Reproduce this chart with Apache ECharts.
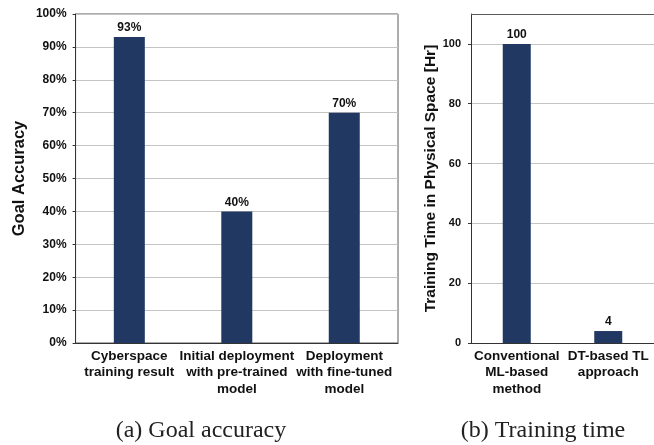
<!DOCTYPE html>
<html>
<head>
<meta charset="utf-8">
<script src="https://cdn.jsdelivr.net/npm/echarts@6/dist/echarts.min.js"></script>
<style>html,body{margin:0;padding:0;background:#fff}#c{width:654px;height:445px}</style>
</head>
<body>
<div id="c"></div>
<script>
const accCategories = ['Cyberspace\ntraining result', 'Initial deployment\nwith pre-trained\nmodel', 'Deployment\nwith fine-tuned\nmodel'];
const accValues = [93, 40, 70];
const timeCategories = ['Conventional\nML-based\nmethod', 'DT-based TL\napproach'];
const timeValues = [100, 4];
const captionA = '(a) Goal accuracy';
const captionB = '(b) Training time';

const barColor = '#213863';
const font = 'Liberation Sans, Arial, sans-serif';
const serif = 'Liberation Serif, Times New Roman, serif';
const chart = echarts.init(document.getElementById('c'), null, {renderer: 'canvas'});
chart.setOption({
  animation: false,
  backgroundColor: '#fff',
  title: [
    {text: captionA, left: 201, top: 419, textAlign: 'center', padding: 0,
     textStyle: {fontFamily: serif, fontSize: 24, fontWeight: 'normal', color: '#222'}},
    {text: captionB, left: 543, top: 419, textAlign: 'center', padding: 0,
     textStyle: {fontFamily: serif, fontSize: 24, fontWeight: 'normal', color: '#222'}}
  ],
  grid: [
    {left: 70, top: 14, width: 328, height: 329, show: true, borderColor: '#5a5a5a', borderWidth: 1},
    {left: 471, top: 14, width: 189, height: 329, show: false}
  ],
  xAxis: [
    {type: 'category', gridIndex: 0, data: accCategories,
     axisLine: {lineStyle: {color: '#333'}}, axisTick: {show: false},
     axisLabel: {interval: 0, margin: 5, fontFamily: font, fontWeight: 'bold', fontSize: 13.5, lineHeight: 16.5, color: '#111'}},
    {type: 'category', gridIndex: 1, data: timeCategories,
     axisLine: {lineStyle: {color: '#333'}}, axisTick: {show: false},
     axisLabel: {interval: 0, margin: 5, fontFamily: font, fontWeight: 'bold', fontSize: 13.5, lineHeight: 16.5, color: '#111'}}
  ],
  yAxis: [
    {type: 'value', gridIndex: 0, min: 0, max: 100, interval: 10,
     name: 'Goal Accuracy', nameLocation: 'middle', nameGap: 48,
     nameTextStyle: {fontFamily: font, fontWeight: 'bold', fontSize: 16.5, color: '#111'},
     axisLine: {show: true, lineStyle: {color: '#333'}},
     axisTick: {show: true, length: 3, lineStyle: {color: '#333'}},
     axisLabel: {formatter: '{value}%', margin: 9, fontFamily: font, fontWeight: 'bold', fontSize: 12, color: '#111'},
     splitLine: {lineStyle: {color: '#c4c4c4'}}},
    {type: 'value', gridIndex: 1, min: 0, max: 110, interval: 20,
     name: 'Training Time in Physical Space [Hr]', nameLocation: 'middle', nameGap: 32,
     nameTextStyle: {fontFamily: font, fontWeight: 'bold', fontSize: 15.5, color: '#111'},
     axisLine: {show: true, lineStyle: {color: '#333'}},
     axisTick: {show: true, length: 3, lineStyle: {color: '#333'}},
     axisLabel: {showMaxLabel: false, margin: 10, fontFamily: font, fontWeight: 'bold', fontSize: 11, color: '#111'},
     splitLine: {lineStyle: {color: '#c4c4c4'}}}
  ],
  graphic: [],
  series: [
    {type: 'bar', xAxisIndex: 0, yAxisIndex: 0, data: accValues, barWidth: 31,
     itemStyle: {color: barColor},
     label: {show: true, position: 'top', distance: 3, formatter: '{c}%', fontFamily: font, fontWeight: 'bold', fontSize: 12, color: '#111'}},
    {type: 'bar', xAxisIndex: 1, yAxisIndex: 1, data: timeValues, barWidth: 28,
     itemStyle: {color: barColor},
     label: {show: true, position: 'top', distance: 3, fontFamily: font, fontWeight: 'bold', fontSize: 12, color: '#111'}}
  ]
});
// top border of right panel (as in reference, a dark frame line at the top)
const m = chart.convertToPixel({gridIndex: 1}, [0, 110]);
chart.setOption({graphic: [{type: 'line', silent: true, z: 10,
  shape: {x1: 471, y1: Math.round(m[1]) + 0.5, x2: 660, y2: Math.round(m[1]) + 0.5},
  style: {stroke: '#5a5a5a', lineWidth: 1}}]});
</script>
</body>
</html>
